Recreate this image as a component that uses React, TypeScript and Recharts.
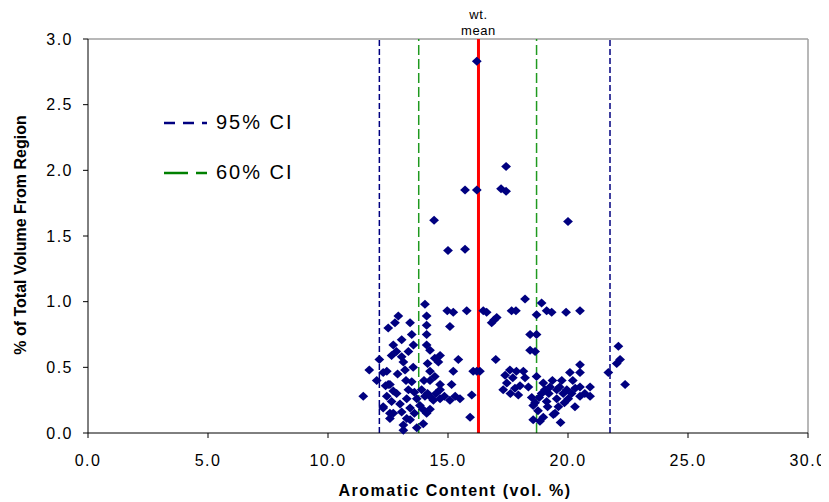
import { ScatterChart, Scatter, XAxis, YAxis, ReferenceLine, Label } from "recharts";

// Samples as [aromatic content (vol. %), % of total volume from region]
const lowAromaticSamples: [number, number][] = [
  [11.47, 0.28], [11.72, 0.48], [12.03, 0.4], [12.14, 0.56], [12.3, 0.19], [12.3, 0.46],
  [12.45, 0.47], [12.45, 0.28], [12.51, 0.8], [12.51, 0.37], [12.58, 0.37], [12.58, 0.11],
  [12.58, 0.15], [12.65, 0.59], [12.72, 0.67], [12.72, 0.32], [12.72, 0.15], [12.79, 0.84],
  [12.86, 0.3], [12.93, 0.89], [13.07, 0.71], [13.07, 0.58], [13.07, 0.16], [13.14, 0.54],
  [13.14, 0.06], [13.14, 0.02], [13.21, 0.48], [13.28, 0.26], [13.28, 0.11], [13.42, 0.84],
  [13.42, 0.19], [13.42, 0.1], [13.49, 0.75], [13.49, 0.39], [13.56, 0.67], [13.7, 0.26],
  [13.7, 0.04], [12.3, 0.2], [12.4, 0.36], [12.65, 0.24], [12.85, 0.62], [12.9, 0.45],
  [13.0, 0.22], [13.25, 0.4], [13.35, 0.33], [13.35, 0.62], [13.55, 0.5], [13.6, 0.15],
  [13.6, 0.31],
];

const midAromaticSamples: [number, number][] = [
  [13.83, 0.21], [13.9, 0.33], [13.95, 0.18], [13.97, 0.07], [14.0, 0.4], [14.04, 0.98],
  [14.04, 0.28], [14.11, 0.89], [14.11, 0.82], [14.11, 0.75], [14.11, 0.67], [14.11, 0.15],
  [14.15, 0.3], [14.15, 0.53], [14.25, 0.63], [14.25, 0.47], [14.25, 0.4], [14.25, 0.18],
  [14.3, 0.27], [14.39, 0.25], [14.45, 0.57], [14.5, 0.3], [14.6, 0.54], [14.67, 0.59],
  [14.67, 0.37], [14.67, 0.26], [14.67, 0.33], [14.42, 1.62], [14.97, 0.93], [15.0, 1.39],
  [15.08, 0.81], [15.08, 0.25], [15.15, 0.37], [15.22, 0.92], [15.22, 0.47], [15.43, 0.56],
  [15.5, 0.26], [15.71, 1.4], [15.71, 1.85], [15.78, 0.93], [15.92, 0.12], [15.99, 0.29],
  [16.05, 0.47], [14.45, 0.43], [14.85, 0.28], [15.3, 0.28],
];

const nearMeanSamples: [number, number][] = [
  [16.2, 2.83], [16.2, 1.85], [16.2, 0.47], [16.33, 0.47], [16.47, 0.93], [16.61, 0.92],
  [16.82, 0.84], [16.92, 0.86], [17.03, 0.88], [16.99, 0.56], [17.21, 1.86], [17.42, 1.84],
  [17.42, 2.03], [17.3, 0.33], [17.38, 0.44], [17.45, 0.38], [17.58, 0.48], [17.6, 0.3],
  [17.65, 0.93], [17.7, 0.42], [17.79, 0.34], [17.83, 0.93], [17.85, 0.47], [17.93, 0.29],
  [18.0, 0.36], [18.14, 0.47], [18.21, 1.02], [18.21, 0.42], [18.35, 0.35], [18.42, 0.75],
  [18.42, 0.63], [18.49, 0.27], [18.55, 0.21], [18.55, 0.1], [18.63, 0.62], [18.63, 0.23],
];

const highAromaticSamples: [number, number][] = [
  [18.69, 0.9], [18.69, 0.75], [18.69, 0.43], [18.75, 0.17], [18.8, 0.27], [18.83, 0.09],
  [18.9, 0.99], [18.9, 0.3], [18.97, 0.38], [18.97, 0.12], [19.04, 0.33], [19.11, 0.93],
  [19.11, 0.24], [19.15, 0.2], [19.2, 0.3], [19.25, 0.35], [19.32, 0.92], [19.35, 0.4],
  [19.39, 0.14], [19.46, 0.15], [19.53, 0.33], [19.53, 0.26], [19.6, 0.2], [19.65, 0.35],
  [19.69, 0.08], [19.74, 0.4], [19.8, 0.3], [19.85, 0.23], [19.92, 0.92], [19.95, 0.33],
  [20.0, 1.61], [20.01, 0.26], [20.08, 0.46], [20.15, 0.3], [20.2, 0.4], [20.29, 0.2],
  [20.3, 0.34], [20.5, 0.93], [20.5, 0.52], [20.5, 0.46], [20.5, 0.35], [20.5, 0.28],
  [20.7, 0.3], [20.92, 0.35], [20.92, 0.28], [21.68, 0.46], [22.03, 0.53], [22.1, 0.66],
  [22.17, 0.56], [22.38, 0.37],
];

const ci95 = [12.14, 21.75];
const ci60 = [13.78, 18.69];
const weightedMean = 16.27;

const xTicks = [0, 5, 10, 15, 20, 25, 30];
const yTicks = [0, 0.5, 1, 1.5, 2, 2.5, 3];

const samples = [
  ...lowAromaticSamples,
  ...midAromaticSamples,
  ...nearMeanSamples,
  ...highAromaticSamples,
].map(([aromatic, share]) => ({ aromatic, share }));

const FONT = "'Liberation Sans', Arial, sans-serif";
const NAVY = "#000080";
const GREEN = "#1f9a1f";

const Diamond = (props: any) => {
  const { cx, cy } = props;
  if (cx == null || cy == null) return null;
  return (
    <polygon
      points={`${cx - 4.9},${cy} ${cx},${cy - 4.5} ${cx + 4.9},${cy} ${cx},${cy + 4.5}`}
      fill={NAVY}
    />
  );
};

const xTitle = (props: any) => {
  const { x, y, width } = props.viewBox;
  return (
    <text x={x + width / 2 + 7} y={y + 63} textAnchor="middle" fontFamily={FONT} fontSize={16} fontWeight="bold" letterSpacing={1.5} fill="#000">
      Aromatic Content  (vol. %)
    </text>
  );
};

const yTitle = (props: any) => {
  const { x, y, height } = props.viewBox;
  const cx = x + 18;
  const cy = y + height / 2 - 1;
  return (
    <text x={cx} y={cy} transform={`rotate(-90, ${cx}, ${cy})`} textAnchor="middle" fontFamily={FONT} fontSize={16} fontWeight="bold" fill="#000">
      % of Total Volume From Region
    </text>
  );
};

const meanLabel = (props: any) => {
  const { x, y } = props.viewBox;
  return (
    <text textAnchor="middle" fontFamily={FONT} fontSize={13} letterSpacing={0.6} fill="#000">
      <tspan x={x} y={y - 20}>wt.</tspan>
      <tspan x={x} y={y - 4}>mean</tspan>
    </text>
  );
};

function LegendKey({ color, dash, label, top }: { color: string; dash: string; label: string; top: number }) {
  return (
    <div style={{ position: "absolute", left: 155, top, display: "flex", alignItems: "center" }}>
      <svg width={44} height={10}>
        <line x1={1} y1={5} x2={44} y2={5} stroke={color} strokeWidth={2.5} strokeDasharray={dash} />
      </svg>
      <span style={{ marginLeft: 9, fontFamily: FONT, fontSize: 20, letterSpacing: 2, color: "#000" }}>{label}</span>
    </div>
  );
}

export default function App() {
  return (
    <div style={{ position: "relative", width: 821, height: 494 }}>
      <ScatterChart width={821} height={494} margin={{ top: 31, right: 21, bottom: 0, left: 0 }}>
        <XAxis
          type="number"
          dataKey="aromatic"
          domain={[0, 30]}
          ticks={xTicks}
          tickFormatter={(v: number) => v.toFixed(1)}
          height={69}
          stroke="#000"
          tickSize={5}
          tickMargin={17}
          tick={{ fill: "#000", fontSize: 16, fontFamily: FONT, letterSpacing: 1.5 }}
        >
          <Label content={xTitle} />
        </XAxis>
        <YAxis
          type="number"
          dataKey="share"
          domain={[0, 3]}
          ticks={yTicks}
          tickFormatter={(v: number) => v.toFixed(1)}
          width={80}
          stroke="#000"
          tickSize={5}
          tickMargin={10}
          tick={{ fill: "#000", fontSize: 16, fontFamily: FONT, letterSpacing: 1.5 }}
        >
          <Label content={yTitle} />
        </YAxis>
        <ReferenceLine y={3} stroke="#a0a0a0" strokeWidth={1.5} />
        <ReferenceLine x={30} stroke="#a0a0a0" strokeWidth={1.5} />
        {ci95.map((v) => (
          <ReferenceLine key={`ci95-${v}`} x={v} stroke={NAVY} strokeWidth={1.5} strokeDasharray="6 3" />
        ))}
        {ci60.map((v) => (
          <ReferenceLine key={`ci60-${v}`} x={v} stroke={GREEN} strokeWidth={1.5} strokeDasharray="10 4" />
        ))}
        <ReferenceLine x={weightedMean} stroke="#ff0000" strokeWidth={3} label={meanLabel} />
        <Scatter data={samples} shape={Diamond} isAnimationActive={false} />
      </ScatterChart>
      <LegendKey color={NAVY} dash="11 8" label="95% CI" top={103} />
      <LegendKey color="#008000" dash="24 8" label="60% CI" top={153} />
    </div>
  );
}
